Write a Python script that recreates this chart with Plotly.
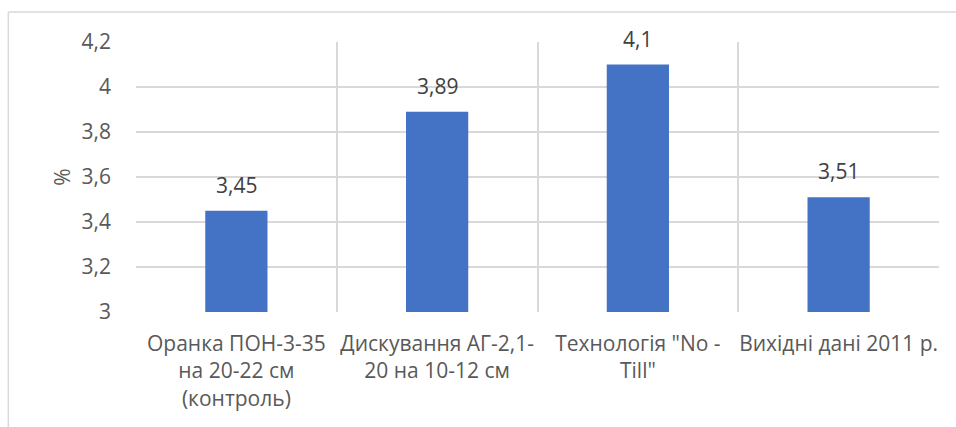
import plotly.graph_objects as go

categories = [
    "Оранка ПОН-3-35<br>на 20-22 см<br>(контроль)",
    "Дискування АГ-2,1-<br>20 на 10-12 см",
    "Технологія \"No -<br>Till\"",
    "Вихідні дані 2011 р.",
]
values = [3.45, 3.89, 4.1, 3.51]
y_ticks = [3, 3.2, 3.4, 3.6, 3.8, 4, 4.2]

labels = [str(v).replace(".", ",") for v in values]

FONT = "Open Sans"
SIZE = 21
GRID = "#d9d9d9"

fig = go.Figure(
    go.Bar(
        x=categories,
        y=values,
        marker=dict(color="#4472c4", line=dict(width=0)),
        width=0.31,
    )
)

# value labels sitting above each bar
annotations = [
    dict(x=c, y=v, text=t, xref="x", yref="y", showarrow=False,
         yanchor="middle", yshift=26,
         font=dict(family=FONT, size=SIZE, color="#404040"))
    for c, v, t in zip(categories, values, labels)
]

fig.update_layout(
    width=956,
    height=427,
    margin=dict(l=136, r=17, t=42, b=115),
    paper_bgcolor="white",
    plot_bgcolor="white",
    separators=", ",
    showlegend=False,
    font=dict(family=FONT, size=SIZE, color="#595959"),
    annotations=annotations,
    shapes=[
        dict(type="line", xref="paper", yref="paper", x0=-0.159, x1=1.03, y0=1.111, y1=1.111,
             line=dict(color=GRID, width=1.5)),
        dict(type="line", xref="paper", yref="paper", x0=-0.159, x1=-0.159, y0=1.111, y1=-0.5,
             line=dict(color=GRID, width=1.5)),
    ],
)

fig.update_xaxes(
    tickson="boundaries",
    showgrid=True,
    gridcolor=GRID,
    gridwidth=1.5,
    ticks="",
    showline=False,
    tickangle=0,
    automargin=False,
    ticklabelstandoff=17,
    tickfont=dict(family=FONT, size=SIZE, color="#595959"),
)

fig.update_yaxes(
    range=[3, 4.2],
    tickvals=y_ticks,
    showgrid=True,
    gridcolor=GRID,
    gridwidth=1.5,
    zeroline=False,
    ticks="",
    automargin=False,
    ticklabelstandoff=24,
    tickfont=dict(family=FONT, size=SIZE, color="#595959"),
    title=dict(text="%", font=dict(family=FONT, size=SIZE, color="#595959"), standoff=5),
)

fig.write_html("out.html")
